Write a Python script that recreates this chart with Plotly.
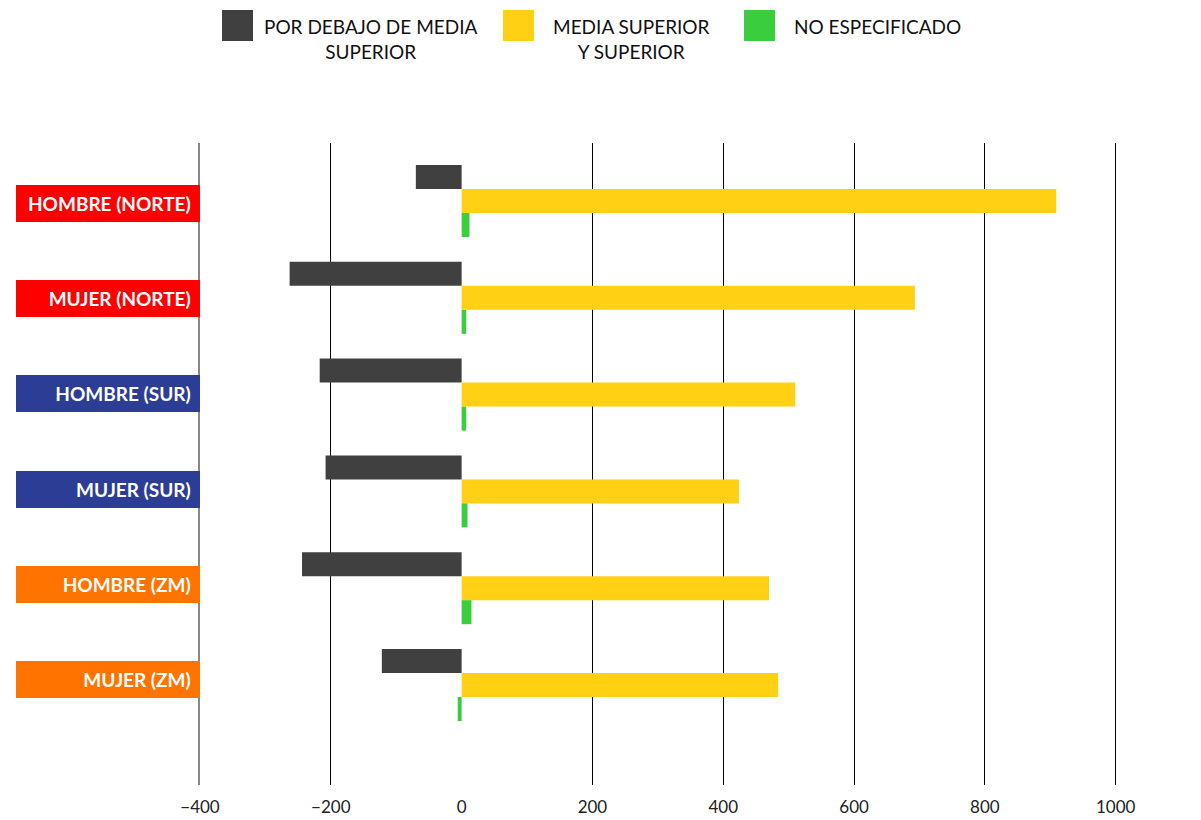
import plotly.graph_objects as go

# categories (top to bottom) and the colour of their label box
categories = ["HOMBRE (NORTE)", "MUJER (NORTE)", "HOMBRE (SUR)",
              "MUJER (SUR)", "HOMBRE (ZM)", "MUJER (ZM)"]
label_colors = ["#FF0000", "#FF0000", "#2B3D94", "#2B3D94", "#FF7300", "#FF7300"]

# series
series_names = ["POR DEBAJO DE MEDIA<br>SUPERIOR", "MEDIA SUPERIOR<br>Y SUPERIOR", "NO ESPECIFICADO"]
series_colors = ["#404040", "#FFD014", "#3ACD3E"]
por_debajo = [-70, -263, -217, -208, -244, -122]
media_superior = [909, 693, 510, 424, 470, 484]
no_especificado = [12, 7, 7, 9, 15, -6]

x_ticks = [-400, -200, 0, 200, 400, 600, 800, 1000]

FONT = "Lato"

# plot area in pixels (for the hand-made legend)
L, R, T, B = 200, 84, 143, 35
W, H = 1201, 820
pw, ph = W - L - R, H - T - B
def px_x(p):
    return (p - L) / pw
def px_y(p):
    return (H - B - p) / ph

fig = go.Figure()
for name, col, vals in zip(series_names, series_colors,
                           [por_debajo, media_superior, no_especificado]):
    fig.add_trace(go.Bar(x=vals, y=categories, orientation="h", name=name,
                         marker=dict(color=col, line=dict(width=0)),
                         showlegend=False))

# coloured category labels
for i, (cat, col) in enumerate(zip(categories, label_colors)):
    fig.add_annotation(xref="paper", x=0, xanchor="right", yref="y", y=cat,
                       yshift=1.6 * i - 2.5,
                       text=cat + "&nbsp;&nbsp;", showarrow=False, align="right",
                       width=184, height=37, borderpad=0, borderwidth=0, bgcolor=col,
                       font=dict(family=FONT, size=19, color="white", weight="bold"))

# legend: squares + text
sq = [(222, 253), (503, 534), (744, 775)]
txt_x = [370.5, 631.5, 877]
for (a, b), col, name, tx in zip(sq, series_colors, series_names, txt_x):
    fig.add_shape(type="rect", xref="paper", yref="paper",
                  x0=px_x(a), x1=px_x(b), y0=px_y(41), y1=px_y(10),
                  fillcolor=col, line=dict(width=0))
    fig.add_annotation(xref="paper", yref="paper", x=px_x(tx), y=px_y(13),
                       xanchor="center", yanchor="top", text=name, showarrow=False,
                       align="center", font=dict(family=FONT, size=19, color="#111111"))

fig.update_layout(
    width=W, height=H,
    margin=dict(l=L, r=R, t=T, b=B),
    barmode="group", bargap=0.256, bargroupgap=0,
    plot_bgcolor="white", paper_bgcolor="white",
    font=dict(family=FONT),
    xaxis=dict(range=[-400, 1002], tickvals=x_ticks, showgrid=True,
               gridcolor="#000000", gridwidth=1, zeroline=True,
               zerolinecolor="white", zerolinewidth=2, showline=False,
               ticks="", ticklabelstandoff=10, automargin=False,
               tickfont=dict(family=FONT, size=17, color="#222222")),
    yaxis=dict(type="category", categoryorder="array", categoryarray=categories,
               range=[6.033, -0.599], showticklabels=False, showgrid=False,
               zeroline=False, showline=True, linecolor="#888888", linewidth=2,
               ticks="", automargin=False),
)

fig.write_html("out.html", config={"displayModeBar": False},
               post_script="document.body.style.margin='0';")
